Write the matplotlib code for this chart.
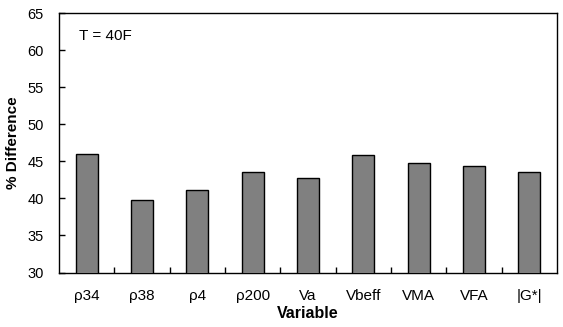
import matplotlib
matplotlib.use("Agg")
import matplotlib.pyplot as plt
import numpy as np

categories = ["ρ34", "ρ38", "ρ4", "ρ200", "Va", "Vbeff", "VMA", "VFA", "|G*|"]
values = [46.0, 39.8, 41.1, 43.6, 42.8, 45.8, 44.8, 44.4, 43.6]

plt.rcParams['font.family'] = ['Liberation Sans', 'DejaVu Sans']

fig = plt.figure(figsize=(5.63, 3.27), dpi=100)
ax = fig.add_axes([59/563, 1 - 272.5/327, (557-59)/563, (272.5-13)/327])

x = np.arange(len(categories))
ax.bar(x, values, width=0.4, color="#808080", edgecolor="black", linewidth=1.0, zorder=3)

ax.set_xlim(-0.5, len(categories) - 0.5)
ax.set_ylim(30, 65)
ax.set_yticks(np.arange(30, 66, 5))
ax.set_xticks(x)
ax.set_xticklabels(categories)
ax.set_xticks(np.arange(0.5, len(categories) - 0.5, 1), minor=True)
ax.tick_params(axis='x', which='major', length=0, pad=12, labelsize=11)
ax.tick_params(axis='x', which='minor', direction='in', length=4, width=1)
ax.tick_params(axis='y', direction='in', length=4, width=1, labelsize=10.5, pad=11)

for s in ax.spines.values():
    s.set_linewidth(1.0)

ax.set_xlabel("Variable", fontsize=11.5, fontweight='bold', labelpad=2)
ax.set_ylabel("% Difference", fontsize=11, fontweight='bold', labelpad=5)
ax.text(0.04, 0.91, "T = 40F", transform=ax.transAxes, fontsize=11, va='center', ha='left')

fig.savefig("out.png", dpi=100)
